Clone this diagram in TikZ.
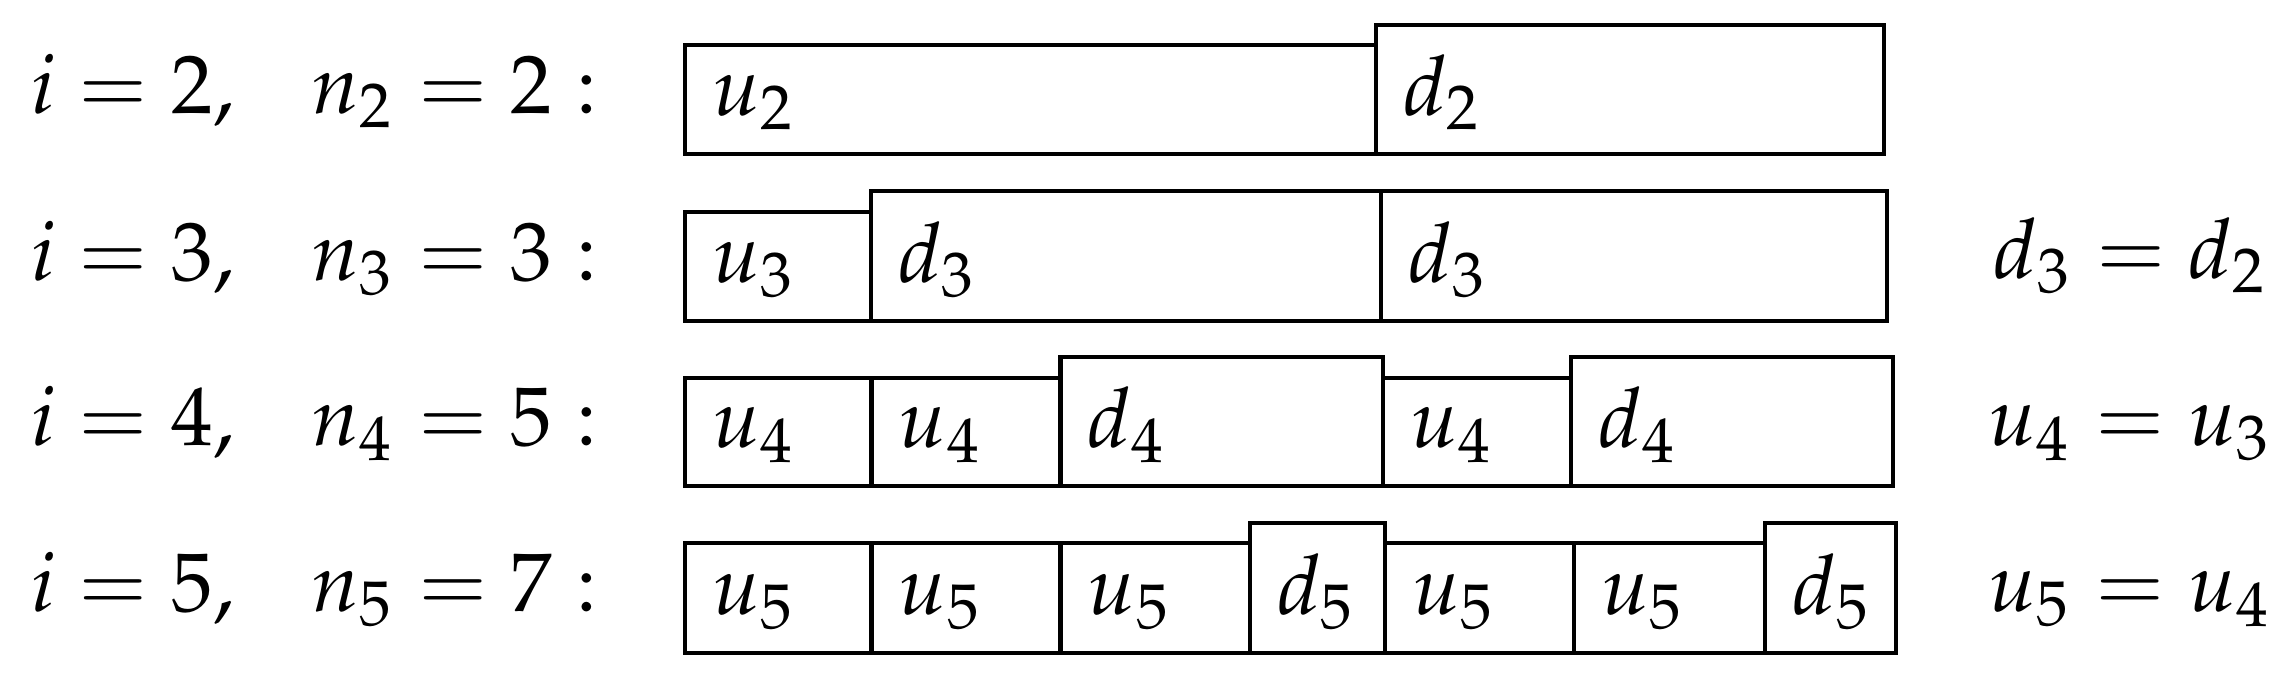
\documentclass[tikz,border=0pt]{standalone}
\usepackage{mathpazo}
\usetikzlibrary{fit}
\newcommand{\mycell}[6]{%
  \node[box, fit={(#2,#3) (#4,#5)}] (#1) {};
  \node[lab] (#1l) at ([xshift=3.5pt,yshift=5.125pt]#1.south west) {$#6$};
}
\begin{document}
\begin{tikzpicture}[x=0.125pt,y=-0.125pt,
  box/.style={draw,line width=0.58pt,inner sep=0pt,rectangle},
  lab/.style={anchor=base west,inner sep=0pt,font=\fontsize{10.4}{12.5}\selectfont}]
\useasboundingbox (0,0) rectangle (2284,681);
% row i=2
\mycell{a1}{685}{45}{1376}{154}{u_2}
\mycell{a2}{1376}{25}{1884}{154}{d_2}
% row i=3
\mycell{b1}{685}{212}{871}{321}{u_3}
\mycell{b2}{871}{191}{1381}{321}{d_3}
\mycell{b3}{1381}{191}{1887}{321}{d_3}
% row i=4
\mycell{c1}{685}{378}{871.5}{486}{u_4}
\mycell{c2}{871.5}{378}{1060.5}{486}{u_4}
\mycell{c3}{1060.5}{357}{1383}{486}{d_4}
\mycell{c4}{1383}{378}{1571}{486}{u_4}
\mycell{c5}{1571}{357}{1893}{486}{d_4}
% row i=5
\mycell{e1}{685}{543}{871.5}{653}{u_5}
\mycell{e2}{871.5}{543}{1060.5}{653}{u_5}
\mycell{e3}{1060.5}{543}{1250}{653}{u_5}
\mycell{e4}{1250}{523}{1385}{653}{d_5}
\mycell{e5}{1385}{543}{1574}{653}{u_5}
\mycell{e6}{1574}{543}{1765}{653}{u_5}
\mycell{e7}{1765}{523}{1896}{653}{d_5}
% left labels
\node[lab] (L2) at (29,113) {$i = 2, \hspace{0.76em} n_2 = 2 :$};
\node[lab] (L3) at (29,280) {$i = 3, \hspace{0.76em} n_3 = 3 :$};
\node[lab] (L4) at (29,445) {$i = 4, \hspace{0.76em} n_4 = 5 :$};
\node[lab] (L5) at (29,611) {$i = 5, \hspace{0.76em} n_5 = 7 :$};
% right labels
\node[lab] (R3) at (1992,278) {$d_3 = d_2$};
\node[lab] (R4) at (1987,445) {$u_4 = u_3$};
\node[lab] (R5) at (1987,611) {$u_5 = u_4$};
\end{tikzpicture}
\end{document}
